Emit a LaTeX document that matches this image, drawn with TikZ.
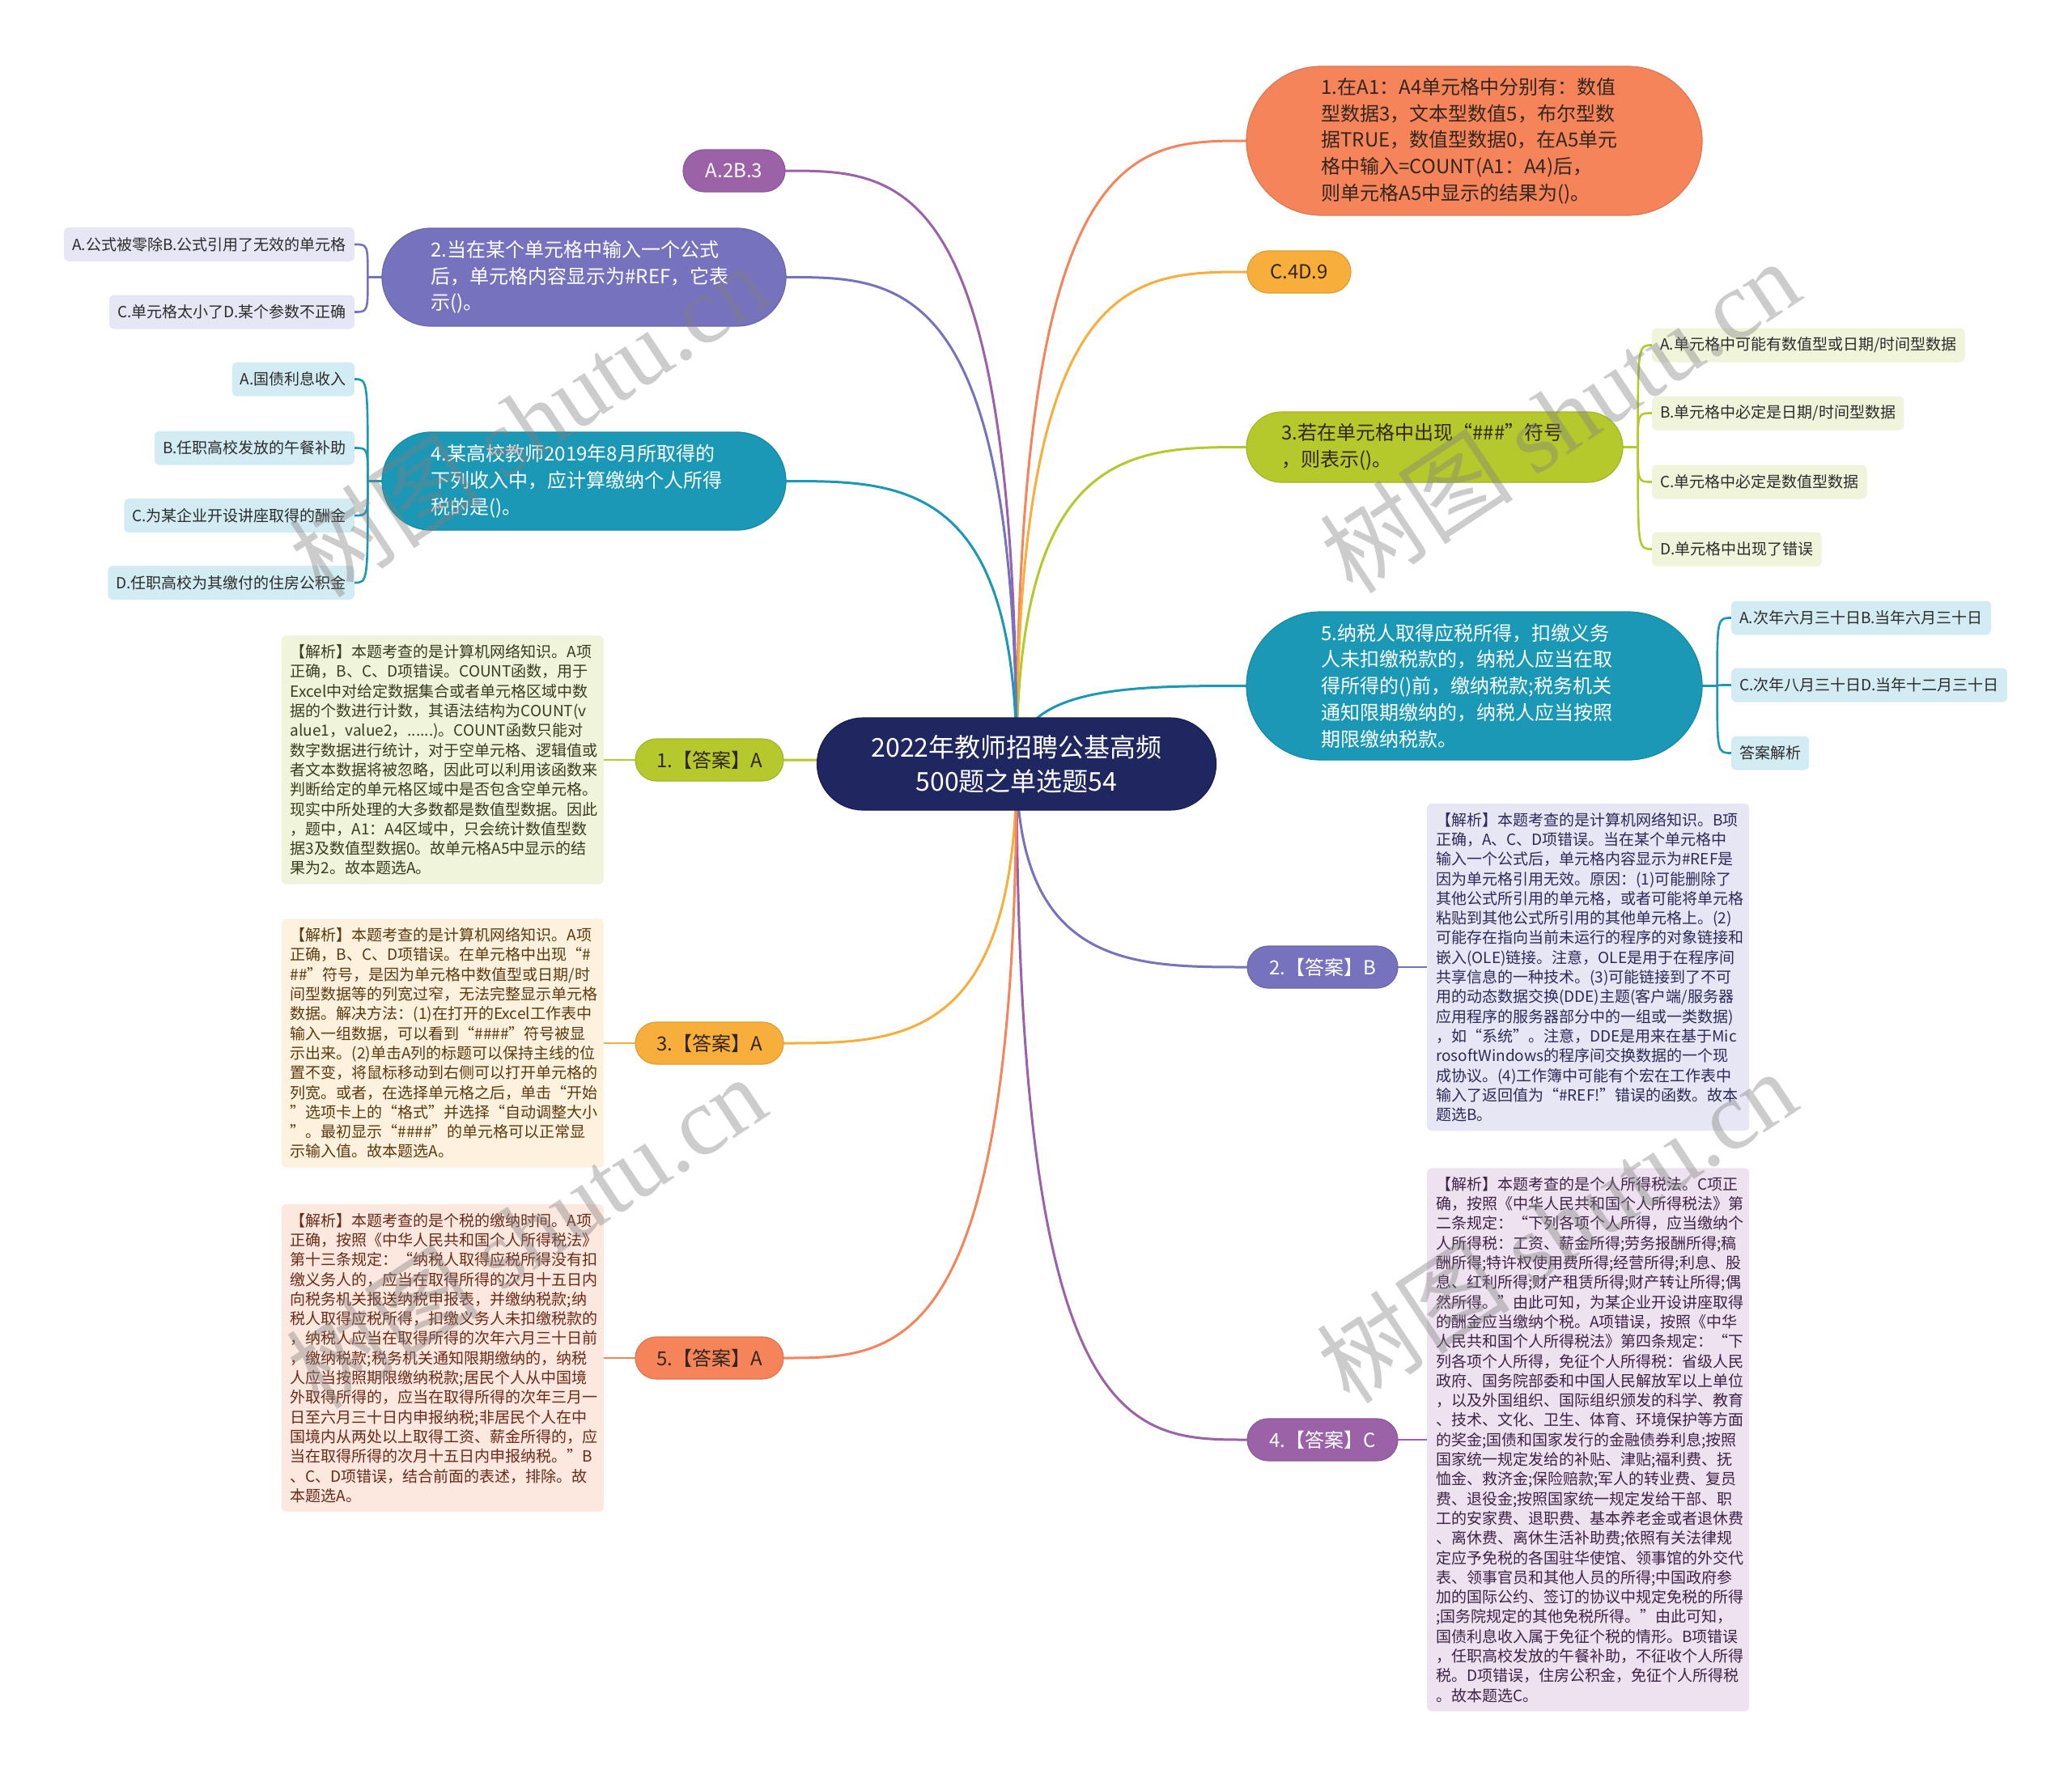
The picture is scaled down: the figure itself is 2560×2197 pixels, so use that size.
\documentclass[tikz,border=0pt]{standalone}
\usepackage{fontspec}
\setmainfont{Noto Sans CJK SC}
\newfontfamily\wmlatin{Liberation Serif}
\usetikzlibrary{shapes.misc,calc,backgrounds}
\definecolor{cnavy}{HTML}{1F2660}
\definecolor{corange}{HTML}{F6845A}
\definecolor{camber}{HTML}{F8AE3A}
\definecolor{cgreen}{HTML}{B5C92D}
\definecolor{cteal}{HTML}{1A98B6}
\definecolor{cblue}{HTML}{7672BE}
\definecolor{cpurple}{HTML}{9C62A8}
\definecolor{fgreen}{HTML}{F0F4DA}
\definecolor{fteal}{HTML}{D3ECF3}
\definecolor{fblue}{HTML}{E7E6F4}
\definecolor{famber}{HTML}{FEF1DD}
\definecolor{forange}{HTML}{FDE8E0}
\definecolor{fpurple}{HTML}{EEE2F0}
\definecolor{tdark}{HTML}{2B2B2B}
\definecolor{tgreen}{HTML}{3A3C1E}
\definecolor{tamber}{HTML}{5B3A0E}
\definecolor{torange}{HTML}{6A2A18}
\definecolor{tblue}{HTML}{2C2A5A}
\definecolor{tpurple}{HTML}{3E2347}
\definecolor{tq}{HTML}{33261F}
\tikzset{
  conn/.style={line width=3pt, line cap=round},
  subconn/.style={line width=2.6pt, line cap=round},
  root/.style={rounded rectangle, fill=cnavy, draw=cnavy!80!black, line width=1.2pt, text=white, inner xsep=0pt, minimum width=493pt, minimum height=114pt, align=center, font=\fontsize{32pt}{42pt}\selectfont},
  qbox/.style={rounded rectangle, line width=1.2pt, inner xsep=0pt, inner ysep=4pt, text width=378pt, align=left, font=\fontsize{24pt}{32.7pt}\selectfont},
  pill/.style={rounded rectangle, line width=1.2pt, inner xsep=0pt, inner ysep=0pt, minimum height=52pt, font=\fontsize{24pt}{30pt}\selectfont},
  leaf/.style={rectangle, rounded corners=6pt, inner xsep=10pt, inner ysep=0pt, minimum height=42pt, text=tdark, font=\fontsize{19pt}{24pt}\selectfont},
  expl/.style={rectangle, rounded corners=6pt, inner xsep=11pt, inner ysep=11pt, text width=376pt, align=left, font=\fontsize{19pt}{24.3pt}\selectfont},
  wm/.style={text=black!50, opacity=0.4, inner sep=0pt, font=\fontsize{120pt}{120pt}\selectfont},
}
\newcommand\mmright[2]{\draw[conn,#1] (hub) .. controls (hub |- #2.west) and ($(hub |- #2.west)!0.5!(#2.west)$) .. (#2.west);}
\newcommand\mmleft[2]{\draw[conn,#1] (hub) .. controls (hub |- #2.east) and ($(hub |- #2.east)!0.5!(#2.east)$) .. (#2.east);}
\newcommand\brk[3]{\draw[subconn,#1] (#2) .. controls (#2 |- #3) and (#2 |- #3) .. (#3);}
\begin{document}
\begin{tikzpicture}[x=1pt,y=-1pt]
\useasboundingbox (0,0) rectangle (2560,2197);
\coordinate (hub) at (1256,944);
% root
\node[root] (root) at (1256,944) {2022年教师招聘公基高频\\500题之单选题54};
% right side
\node[qbox, fill=corange, draw=corange!90!black, text=tq, minimum width=563pt, minimum height=184pt] (q1) at (1821.5,174) {1.在A1：A4单元格中分别有：数值\\型数据3，文本型数值5，布尔型数\\据TRUE，数值型数据0，在A5单元\\格中输入=COUNT(A1：A4)后，\\则单元格A5中显示的结果为()。};
\node[pill, fill=camber, draw=camber!90!black, text=tq, minimum width=128pt] (o1) at (1605,336) {C.4D.9};
\node[qbox, fill=cgreen, draw=cgreen!90!black, text=tq, minimum width=465pt, minimum height=87pt] (q3) at (1772.5,552.5) {3.若在单元格中出现“\#\#\#”符号\\，则表示()。};
\node[leaf, fill=fgreen, anchor=west] (q3a) at (2041,426.5) {A.单元格中可能有数值型或日期/时间型数据};
\node[leaf, fill=fgreen, anchor=west] (q3b) at (2041,510.5) {B.单元格中必定是日期/时间型数据};
\node[leaf, fill=fgreen, anchor=west] (q3c) at (2041,595.5) {C.单元格中必定是数值型数据};
\node[leaf, fill=fgreen, anchor=west] (q3d) at (2041,678.5) {D.单元格中出现了错误};
\node[qbox, fill=cteal, draw=cteal!90!black, text=white, minimum width=563pt, minimum height=183pt] (q5) at (1821.5,847.5) {5.纳税人取得应税所得，扣缴义务\\人未扣缴税款的，纳税人应当在取\\得所得的()前，缴纳税款;税务机关\\通知限期缴纳的，纳税人应当按照\\期限缴纳税款。};
\node[leaf, fill=fteal, anchor=west] (q5a) at (2139,763.5) {A.次年六月三十日B.当年六月三十日};
\node[leaf, fill=fteal, anchor=west] (q5b) at (2139,846.5) {C.次年八月三十日D.当年十二月三十日};
\node[leaf, fill=fteal, anchor=west] (q5c) at (2139,930.5) {答案解析};
\node[pill, fill=cblue, draw=cblue!90!black, text=white, minimum width=186pt] (a2) at (1634,1195) {2.【答案】B};
\node[expl, fill=fblue, text=tblue, anchor=west] (e2) at (1763,1195) {【解析】本题考查的是计算机网络知识。B项\\正确，A、C、D项错误。当在某个单元格中\\输入一个公式后，单元格内容显示为\#REF是\\因为单元格引用无效。原因：(1)可能删除了\\其他公式所引用的单元格，或者可能将单元格\\粘贴到其他公式所引用的其他单元格上。(2)\\可能存在指向当前未运行的程序的对象链接和\\嵌入(OLE)链接。注意，OLE是用于在程序间\\共享信息的一种技术。(3)可能链接到了不可\\用的动态数据交换(DDE)主题(客户端/服务器\\应用程序的服务器部分中的一组或一类数据)\\，如“系统”。注意，DDE是用来在基于Mic\\rosoftWindows的程序间交换数据的一个现\\成协议。(4)工作簿中可能有个宏在工作表中\\输入了返回值为“\#REF!”错误的函数。故本\\题选B。};
\node[pill, fill=cpurple, draw=cpurple!90!black, text=white, minimum width=186pt] (a4) at (1634,1779) {4.【答案】C};
\node[expl, fill=fpurple, text=tpurple, anchor=west] (e4) at (1763,1779) {【解析】本题考查的是个人所得税法。C项正\\确，按照《中华人民共和国个人所得税法》第\\二条规定：“下列各项个人所得，应当缴纳个\\人所得税：工资、薪金所得;劳务报酬所得;稿\\酬所得;特许权使用费所得;经营所得;利息、股\\息、红利所得;财产租赁所得;财产转让所得;偶\\然所得。”由此可知，为某企业开设讲座取得\\的酬金应当缴纳个税。A项错误，按照《中华\\人民共和国个人所得税法》第四条规定：“下\\列各项个人所得，免征个人所得税：省级人民\\政府、国务院部委和中国人民解放军以上单位\\，以及外国组织、国际组织颁发的科学、教育\\、技术、文化、卫生、体育、环境保护等方面\\的奖金;国债和国家发行的金融债券利息;按照\\国家统一规定发给的补贴、津贴;福利费、抚\\恤金、救济金;保险赔款;军人的转业费、复员\\费、退役金;按照国家统一规定发给干部、职\\工的安家费、退职费、基本养老金或者退休费\\、离休费、离休生活补助费;依照有关法律规\\定应予免税的各国驻华使馆、领事馆的外交代\\表、领事官员和其他人员的所得;中国政府参\\加的国际公约、签订的协议中规定免税的所得\\;国务院规定的其他免税所得。”由此可知，\\国债利息收入属于免征个税的情形。B项错误\\，任职高校发放的午餐补助，不征收个人所得\\税。D项错误，住房公积金，免征个人所得税\\。故本题选C。};
% left side
\node[pill, fill=cpurple, draw=cpurple!90!black, text=white, minimum width=126pt] (o2) at (907,211) {A.2B.3};
\node[qbox, fill=cblue, draw=cblue!90!black, text=white, minimum width=499pt, minimum height=121pt] (q2) at (721.5,342.5) {2.当在某个单元格中输入一个公式\\后，单元格内容显示为\#REF，它表\\示()。};
\node[leaf, fill=fblue, anchor=east] (q2a) at (438,302) {A.公式被零除B.公式引用了无效的单元格};
\node[leaf, fill=fblue, anchor=east] (q2b) at (438,385.5) {C.单元格太小了D.某个参数不正确};
\node[qbox, fill=cteal, draw=cteal!90!black, text=white, minimum width=499pt, minimum height=121pt] (q4) at (721.5,594.5) {4.某高校教师2019年8月所取得的\\下列收入中，应计算缴纳个人所得\\税的是()。};
\node[leaf, fill=fteal, anchor=east] (q4a) at (438,468.5) {A.国债利息收入};
\node[leaf, fill=fteal, anchor=east] (q4b) at (438,553.5) {B.任职高校发放的午餐补助};
\node[leaf, fill=fteal, anchor=east] (q4c) at (438,637) {C.为某企业开设讲座取得的酬金};
\node[leaf, fill=fteal, anchor=east] (q4d) at (438,720) {D.任职高校为其缴付的住房公积金};
\node[pill, fill=cgreen, draw=cgreen!90!black, text=tq, minimum width=183pt] (a1) at (876.5,939) {1.【答案】A};
\node[expl, fill=fgreen, text=tgreen, anchor=east] (e1) at (746,939) {【解析】本题考查的是计算机网络知识。A项\\正确，B、C、D项错误。COUNT函数，用于\\Excel中对给定数据集合或者单元格区域中数\\据的个数进行计数，其语法结构为COUNT(v\\alue1，value2，......)。COUNT函数只能对\\数字数据进行统计，对于空单元格、逻辑值或\\者文本数据将被忽略，因此可以利用该函数来\\判断给定的单元格区域中是否包含空单元格。\\现实中所处理的大多数都是数值型数据。因此\\，题中，A1：A4区域中，只会统计数值型数\\据3及数值型数据0。故单元格A5中显示的结\\果为2。故本题选A。};
\node[pill, fill=camber, draw=camber!90!black, text=tq, minimum width=183pt] (a3) at (876.5,1289) {3.【答案】A};
\node[expl, fill=famber, text=tamber, anchor=east] (e3) at (746,1289) {【解析】本题考查的是计算机网络知识。A项\\正确，B、C、D项错误。在单元格中出现“\#\\\#\#”符号，是因为单元格中数值型或日期/时\\间型数据等的列宽过窄，无法完整显示单元格\\数据。解决方法：(1)在打开的Excel工作表中\\输入一组数据，可以看到“\#\#\#\#”符号被显\\示出来。(2)单击A列的标题可以保持主线的位\\置不变，将鼠标移动到右侧可以打开单元格的\\列宽。或者，在选择单元格之后，单击“开始\\”选项卡上的“格式”并选择“自动调整大小\\”。最初显示“\#\#\#\#”的单元格可以正常显\\示输入值。故本题选A。};
\node[pill, fill=corange, draw=corange!90!black, text=tq, minimum width=183pt] (a5) at (876.5,1678) {5.【答案】A};
\node[expl, fill=forange, text=torange, anchor=east] (e5) at (746,1678) {【解析】本题考查的是个税的缴纳时间。A项\\正确，按照《中华人民共和国个人所得税法》\\第十三条规定：“纳税人取得应税所得没有扣\\缴义务人的，应当在取得所得的次月十五日内\\向税务机关报送纳税申报表，并缴纳税款;纳\\税人取得应税所得，扣缴义务人未扣缴税款的\\，纳税人应当在取得所得的次年六月三十日前\\，缴纳税款;税务机关通知限期缴纳的，纳税\\人应当按照期限缴纳税款;居民个人从中国境\\外取得所得的，应当在取得所得的次年三月一\\日至六月三十日内申报纳税;非居民个人在中\\国境内从两处以上取得工资、薪金所得的，应\\当在取得所得的次月十五日内申报纳税。”B\\、C、D项错误，结合前面的表述，排除。故\\本题选A。};
% connectors
\begin{pgfonlayer}{background}
\fill[white] (0,0) rectangle (2560,2197);
\mmright{corange}{q1}
\mmright{camber}{o1}
\mmright{cgreen}{q3}
\mmright{cteal}{q5}
\mmright{cblue}{a2}
\mmright{cpurple}{a4}
\mmleft{cpurple}{o2}
\mmleft{cblue}{q2}
\mmleft{cteal}{q4}
\mmleft{cgreen}{a1}
\mmleft{camber}{a3}
\mmleft{corange}{a5}
% brackets
\coordinate (j3) at ($(q3.east)+(18,0)$);
\draw[subconn,cgreen] (q3.east) -- (j3);
\brk{cgreen}{j3}{q3a.west}\brk{cgreen}{j3}{q3b.west}\brk{cgreen}{j3}{q3c.west}\brk{cgreen}{j3}{q3d.west}
\coordinate (j5) at ($(q5.east)+(18,0)$);
\draw[subconn,cteal] (q5.east) -- (j5);
\brk{cteal}{j5}{q5a.west}\brk{cteal}{j5}{q5b.west}\brk{cteal}{j5}{q5c.west}
\coordinate (j2) at ($(q2.west)+(-17,0)$);
\draw[subconn,cblue] (q2.west) -- (j2);
\brk{cblue}{j2}{q2a.east}\brk{cblue}{j2}{q2b.east}
\coordinate (j4) at ($(q4.west)+(-17,0)$);
\draw[subconn,cteal] (q4.west) -- (j4);
\brk{cteal}{j4}{q4a.east}\brk{cteal}{j4}{q4b.east}\brk{cteal}{j4}{q4c.east}\brk{cteal}{j4}{q4d.east}
\draw[subconn,cblue] (a2.east) -- (e2.west);
\draw[subconn,cpurple] (a4.east) -- (e4.west);
\draw[subconn,cgreen] (a1.west) -- (e1.east);
\draw[subconn,camber] (a3.west) -- (e3.east);
\draw[subconn,corange] (a5.west) -- (e5.east);
\end{pgfonlayer}
% watermarks
\node[wm, rotate=33.5] (wm1) at (653,519) {树图 {\wmlatin shutu.cn}};
\node[wm, rotate=33.5] (wm2) at (1927,514) {树图 {\wmlatin shutu.cn}};
\node[wm, rotate=33.5] (wm3) at (650,1522) {树图 {\wmlatin shutu.cn}};
\node[wm, rotate=33.5] (wm4) at (1923,1515) {树图 {\wmlatin shutu.cn}};
\end{tikzpicture}
\end{document}
